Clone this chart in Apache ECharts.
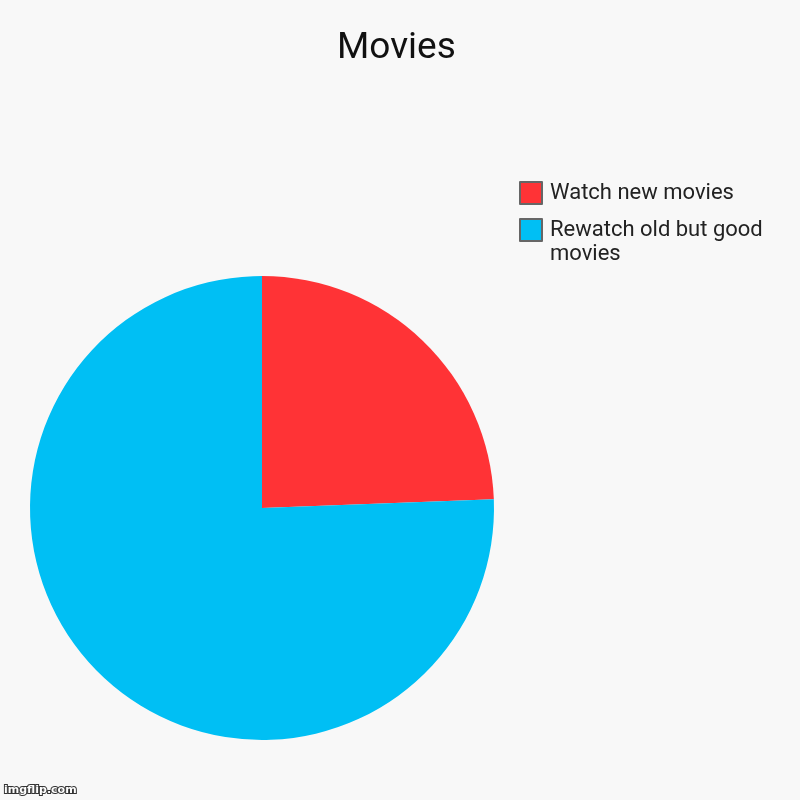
<!DOCTYPE html>
<html>
<head>
<meta charset="utf-8">
<script src="https://cdn.jsdelivr.net/npm/echarts@6/dist/echarts.min.js"></script>
<style>
  html, body { margin: 0; padding: 0; background: #f8f8f8; }
  #chart { width: 800px; height: 800px; }
</style>
</head>
<body>
<div id="chart"></div>
<script>
var categories = ['Watch new movies', 'Rewatch old but good movies'];
var values = [24.4, 75.6];
var colors = ['#ff3336', '#00bff4'];

var chart = echarts.init(document.getElementById('chart'));

var pieData = [];
for (var i = 0; i < categories.length; i++) {
    pieData.push({ name: categories[i], value: values[i], itemStyle: { color: colors[i] } });
}

var legendText = {
    fontFamily: 'Roboto',
    fontSize: 22,
    color: '#222',
    lineHeight: 24,
    padding: [0, 0, 0, 3]
};

chart.setOption({
    backgroundColor: '#f8f8f8',
    animation: false,
    title: {
        text: 'Movies',
        left: 337,
        top: 30,
        padding: 0,
        textStyle: { fontFamily: 'Roboto', fontSize: 37, fontWeight: 'normal', color: '#111' }
    },
    legend: [{
        data: [categories[0]],
        left: 519,
        top: 181,
        padding: 0,
        icon: 'rect',
        itemWidth: 22,
        itemHeight: 22,
        itemStyle: { borderColor: '#666', borderWidth: 2 },
        textStyle: legendText,
        selectedMode: false
    }, {
        data: [categories[1]],
        left: 519,
        top: 194,
        padding: 0,
        icon: 'rect',
        itemWidth: 22,
        itemHeight: 22,
        itemStyle: { borderColor: '#666', borderWidth: 2 },
        // empty first line keeps the first text line level with the box
        formatter: function (name) { return '\u200b\nRewatch old but good\nmovies'; },
        textStyle: legendText,
        selectedMode: false
    }],
    graphic: [{
        type: 'text',
        left: 3,
        top: 784,
        style: {
            text: 'imgflip.com',
            font: 'bold 11px "DejaVu Sans"',
            fill: '#fff',
            stroke: '#333',
            lineWidth: 2
        }
    }],
    series: [{
        type: 'pie',
        center: [262, 508],
        radius: 232,
        startAngle: 90,
        clockwise: true,
        label: { show: false },
        labelLine: { show: false },
        emphasis: { disabled: true },
        data: pieData
    }]
});
</script>
</body>
</html>
